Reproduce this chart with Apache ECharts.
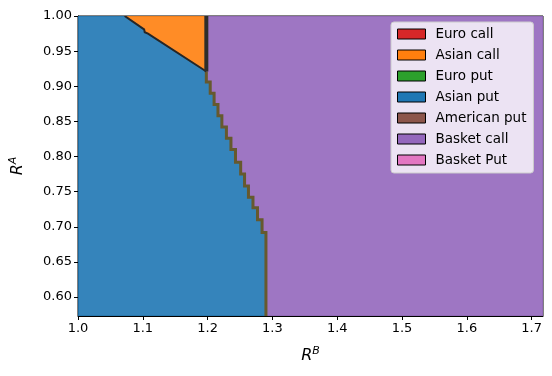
<!DOCTYPE html>
<html>
<head>
<meta charset="utf-8">
<script src="https://cdn.jsdelivr.net/npm/echarts@6/dist/echarts.min.js"></script>
<style>
  html, body { margin: 0; padding: 0; background: #fff; }
  #chart { width: 552px; height: 376px; }
</style>
</head>
<body>
<div id="chart"></div>
<script>
// legend entries / colours
const names = ['Euro call', 'Asian call', 'Euro put', 'Asian put', 'American put', 'Basket call', 'Basket Put']
const colors = ['#d62728', '#ff7f0e', '#2ca02c', '#1f77b4', '#8c564b', '#9467bd', '#e377c2']

// axes
const xTicks = [1.0, 1.1, 1.2, 1.3, 1.4, 1.5, 1.6, 1.7]
const yTicks = [0.60, 0.65, 0.70, 0.75, 0.80, 0.85, 0.90, 0.95, 1.00]
const xLim = [1.0, 1.7175]
const yLim = [0.573, 1.0]

// edge between Asian call and Asian put (top left)
const callEdgeX = [1.072, 1.102, 1.103, 1.108, 1.198]
const callEdgeY = [1.000, 0.981, 0.977, 0.975, 0.921]

// stair edge between Asian put and Basket call
const stairX = [1.198, 1.204, 1.210, 1.216, 1.222, 1.229, 1.236, 1.243, 1.251, 1.257, 1.263, 1.270, 1.277, 1.284, 1.290]
const stairY = [0.921, 0.906, 0.890, 0.874, 0.858, 0.842, 0.826, 0.810, 0.792, 0.775, 0.758, 0.742, 0.727, 0.710, 0.692]

const font = 'DejaVu Sans'

// build outlines from the arrays
const callPts = callEdgeX.map((x, i) => [x, callEdgeY[i]])
const stairPts = [[stairX[0], stairY[0]]]
for (let i = 0; i < stairX.length; i++) {
  const nextY = i + 1 < stairY.length ? stairY[i + 1] : yLim[0]
  stairPts.push([stairX[i], nextY])
  if (i + 1 < stairX.length) stairPts.push([stairX[i + 1], nextY])
}
const lastStair = stairPts[stairPts.length - 1]

const regions = {
  'Asian put': [[xLim[0], yLim[0]], [xLim[0], yLim[1]]].concat(callPts, stairPts.slice(1)),
  'Asian call': callPts.concat([[callEdgeX[callEdgeX.length - 1], yLim[1]]]),
  'Basket call': [[callEdgeX[callEdgeX.length - 1], yLim[1]], [xLim[1], yLim[1]], [xLim[1], yLim[0]], lastStair]
    .concat(stairPts.slice(0, -1).reverse()),
}

const polySeries = (name, i) => ({
  name: name,
  type: 'custom',
  clip: true,
  itemStyle: { color: colors[i] },
  data: regions[name] ? [[xLim[0], yLim[0]]] : [],
  renderItem: (params, api) => ({
    type: 'polygon',
    shape: { points: regions[name].map(p => api.coord(p)) },
    style: { fill: colors[i], opacity: 0.9 },
  }),
})

const line = (pts, color, width) => ({
  type: 'polyline',
  shape: { points: pts },
  style: { stroke: color, lineWidth: width, fill: null, lineJoin: 'miter' },
})

const edgeSeries = {
  type: 'custom',
  clip: true,
  silent: true,
  z: 5,
  data: [[xLim[0], yLim[0]]],
  renderItem: (params, api) => ({
    type: 'group',
    children: [
      line(stairPts.map(p => api.coord(p)), '#66592e', 3),
      line(callPts.map(p => api.coord(p)), '#262626', 2),
      line([[callEdgeX[callEdgeX.length - 1], callEdgeY[callEdgeY.length - 1]], [callEdgeX[callEdgeX.length - 1], yLim[1]]]
        .map(p => api.coord(p)), '#2e2e2a', 4),
    ],
  }),
}

const axisName = {
  color: '#000',
  rich: {
    i: { fontSize: 16, fontStyle: 'italic', fontFamily: font, color: '#000' },
    s: { fontSize: 11, fontStyle: 'italic', fontFamily: font, color: '#000', padding: [0, 0, 9, 0] },
  },
}

const chart = echarts.init(document.getElementById('chart'))
chart.setOption({
  animation: false,
  grid: { left: 77, right: 9, top: 16, bottom: 60, show: true, borderColor: '#000', borderWidth: 1, backgroundColor: 'transparent' },
  xAxis: {
    type: 'value',
    min: xLim[0],
    max: xLim[1],
    name: '{i|R}{s|B}',
    nameLocation: 'middle',
    nameGap: 30,
    nameTextStyle: axisName,
    axisLine: { show: true, onZero: false, lineStyle: { color: '#000', width: 1 } },
    axisTick: { show: true, length: 4, customValues: xTicks, lineStyle: { color: '#000' } },
    axisLabel: { customValues: xTicks, formatter: v => v.toFixed(1), color: '#000', fontSize: 13, fontFamily: font, margin: 6 },
    splitLine: { show: false },
  },
  yAxis: {
    type: 'value',
    min: yLim[0],
    max: yLim[1],
    name: '{i|R}{s|A}',
    nameLocation: 'middle',
    nameGap: 50,
    nameRotate: 90,
    nameTextStyle: axisName,
    axisLine: { show: true, onZero: false, lineStyle: { color: '#000', width: 1 } },
    axisTick: { show: true, length: 4, customValues: yTicks, lineStyle: { color: '#000' } },
    axisLabel: { customValues: yTicks, formatter: v => v.toFixed(2), color: '#000', fontSize: 13, fontFamily: font, margin: 6 },
    splitLine: { show: false },
  },
  legend: {
    orient: 'vertical',
    left: 391,
    top: 22,
    icon: 'rect',
    itemWidth: 28,
    itemHeight: 10,
    itemGap: 7,
    padding: [5, 7, 6, 6],
    backgroundColor: 'rgba(255,255,255,0.8)',
    borderColor: '#cccccc',
    borderWidth: 1,
    borderRadius: 3,
    textStyle: { fontSize: 13.5, fontFamily: font, color: '#000', lineHeight: 14, padding: [0, 0, 0, 5] },
    data: names.map((n, i) => ({ name: n, itemStyle: { color: colors[i], borderColor: '#000', borderWidth: 1 } })),
  },
  series: names.map(polySeries).concat([edgeSeries]),
})
</script>
</body>
</html>
